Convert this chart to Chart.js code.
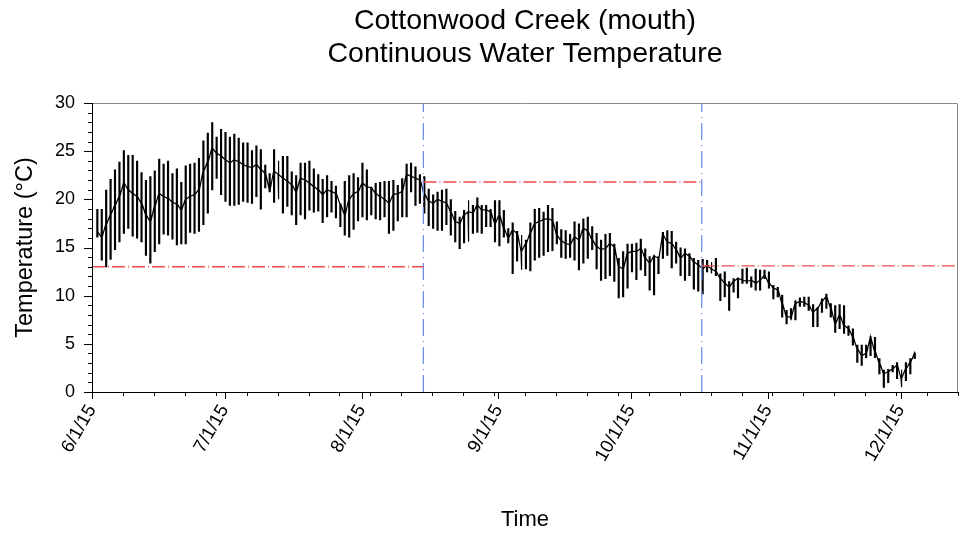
<!DOCTYPE html>
<html>
<head>
<meta charset="utf-8">
<title>Cottonwood Creek (mouth)</title>
<script src="https://cdn.jsdelivr.net/npm/chart.js@4.4.1/dist/chart.umd.min.js"></script>
<style>
  html, body { margin: 0; padding: 0; background: #fff; }
</style>
</head>
<body>
<canvas id="temp-chart" width="963" height="535"></canvas>
<script>
// x axis is "days since 6/1/15"
const monthStarts = [0, 30, 61, 92, 122, 153, 183];
const monthLabels = ['6/1/15', '7/1/15', '8/1/15', '9/1/15', '10/1/15', '11/1/15', '12/1/15'];
const firstDay = 1.1; // first reading, 6/2/15

// daily maximum / minimum / overnight level, degC
const dailyMax = [
  19.0, 19.0, 21.0, 22.1, 23.1, 23.9, 25.1, 24.6, 24.6, 24.0, 22.8, 22.0, 22.4, 23.0, 24.2, 23.7, 24.0, 22.7, 23.2, 21.8,
  23.5, 23.7, 23.8, 24.3, 26.1, 26.9, 28.0, 26.5, 27.3, 27.0, 26.5,
  26.8, 26.4, 25.9, 25.9, 25.1, 25.6, 25.2, 23.6, 22.7, 25.2, 24.0, 24.5, 24.5, 22.9, 22.5, 23.8, 23.8, 24.0, 23.2, 22.6,
  22.1, 22.5, 21.9, 21.4, 19.6, 21.9, 22.5, 22.7, 22.3, 23.8, 23.1,
  21.3, 21.7, 21.8, 21.9, 21.9, 22.0, 21.5, 22.2, 23.7, 23.8, 23.4, 22.6, 22.4, 21.1, 20.5, 20.8, 21.0, 21.1, 20.0, 18.8,
  18.2, 18.9, 19.9, 19.4, 20.2, 19.4, 19.4, 19.0, 19.9, 19.9, 18.9, 17.0,
  17.6, 16.7, 16.3, 15.8, 17.6, 19.0, 19.1, 18.7, 19.4, 19.1, 17.7, 16.9, 16.8, 16.4, 17.7, 17.5, 18.0, 18.2, 17.2, 16.5,
  15.8, 16.4, 16.5, 15.4, 13.9, 14.6, 15.4, 15.4, 15.5, 15.9, 14.9,
  14.1, 14.2, 14.1, 16.6, 16.8, 16.7, 15.6, 15.0, 14.9, 14.4, 13.9, 13.7, 13.8, 13.7, 13.5, 13.9, 12.3, 12.5, 11.5, 11.8,
  11.8, 12.8, 12.9, 12.0, 12.8, 12.7, 12.7, 12.5, 11.1, 10.9, 10.1, 8.5,
  8.7, 9.5, 9.8, 9.9, 9.9, 9.1, 8.7, 9.7, 10.2, 9.2, 9.0, 9.1, 9.0, 6.9, 6.6, 4.9, 4.9, 4.9, 5.8, 5.7,
  3.5, 2.3, 2.4, 2.8, 3.1, 2.3, 3.1, 3.5, 4.1
];
const dailyMin = [
  16.1, 13.7, 13.0, 13.8, 14.8, 15.6, 16.5, 17.0, 16.2, 16.0, 15.6, 14.2, 13.4, 14.6, 15.4, 16.4, 16.3, 15.9, 15.3, 15.4,
  15.4, 16.6, 16.5, 16.7, 17.4, 18.6, 21.0, 22.2, 20.5, 19.8, 19.4,
  19.4, 19.5, 19.8, 19.7, 19.6, 20.3, 19.0, 21.2, 20.8, 19.7, 20.0, 18.6, 19.3, 18.4, 17.4, 18.4, 18.0, 18.9, 18.7, 18.8,
  17.6, 18.2, 18.7, 18.1, 17.2, 16.3, 16.1, 16.9, 17.8, 18.2, 17.9,
  18.4, 18.0, 17.9, 18.2, 16.5, 16.8, 17.8, 18.2, 18.2, 20.8, 19.4, 19.6, 18.6, 17.3, 17.0, 16.8, 16.8, 17.4, 16.3, 15.6,
  14.9, 15.5, 15.6, 16.5, 16.6, 16.5, 17.2, 17.2, 15.6, 15.2, 16.1, 15.5,
  12.3, 13.6, 12.7, 12.8, 12.6, 13.7, 14.0, 14.2, 14.6, 14.7, 15.4, 14.0, 13.9, 14.0, 13.7, 12.7, 13.4, 13.9, 14.8, 12.8,
  11.6, 11.8, 12.1, 11.5, 9.8, 9.9, 10.8, 12.5, 11.7, 12.7, 12.1,
  10.6, 10.1, 12.3, 13.9, 14.2, 12.9, 13.4, 12.1, 11.6, 12.1, 10.7, 10.5, 10.2, 12.5, 12.3, 12.1, 9.5, 9.9, 8.5, 10.4,
  9.8, 11.3, 11.3, 10.9, 10.6, 10.6, 11.8, 10.8, 9.7, 9.9, 7.8, 7.1,
  7.6, 7.5, 8.9, 8.9, 8.5, 6.8, 6.8, 8.3, 8.7, 7.8, 6.2, 6.6, 6.1, 5.9, 4.9, 3.1, 2.8, 3.6, 3.8, 3.6,
  1.9, 0.5, 1.0, 2.1, 1.4, 0.5, 1.2, 1.9, 3.5
];
const dailyMid = [
  16.6, 16.1, 17.4, 18.4, 19.4, 20.3, 21.7, 21.0, 20.6, 20.3, 19.6, 18.4, 17.7, 19.3, 20.6, 20.3, 20.1, 19.7, 19.5, 18.9,
  20.0, 20.3, 20.5, 21.0, 22.9, 23.9, 25.3, 24.8, 24.5, 24.1, 23.8,
  24.1, 23.9, 23.6, 23.4, 23.3, 23.6, 23.1, 22.7, 21.0, 22.9, 22.6, 22.2, 21.9, 21.5, 20.8, 22.2, 22.0, 21.7, 21.3, 21.0,
  20.5, 21.0, 20.8, 20.6, 19.5, 18.4, 20.0, 20.6, 20.8, 21.7, 21.3,
  21.2, 20.6, 20.3, 20.0, 19.6, 20.5, 20.6, 20.8, 22.6, 22.4, 22.2, 22.0, 20.6, 19.8, 19.6, 20.0, 19.8, 19.6, 18.7, 17.7,
  17.5, 18.4, 18.7, 18.6, 19.4, 18.9, 18.9, 18.7, 17.5, 18.4, 17.0, 16.0,
  16.8, 16.5, 14.6, 15.4, 16.5, 17.5, 17.7, 17.9, 18.0, 17.8, 16.3, 15.7, 15.4, 15.3, 16.1, 15.8, 17.0, 16.7, 15.8, 15.1,
  14.8, 14.9, 15.4, 15.1, 13.0, 12.8, 14.4, 14.6, 14.6, 14.9, 13.9,
  13.4, 14.1, 13.9, 16.3, 15.6, 15.4, 14.8, 13.9, 14.4, 14.1, 13.5, 13.2, 12.8, 13.1, 12.8, 12.5, 11.8, 11.3, 10.9, 11.5,
  11.8, 11.6, 11.5, 11.6, 11.3, 11.6, 12.1, 11.3, 10.8, 10.6, 9.2, 7.8,
  7.8, 9.2, 9.4, 9.3, 9.0, 8.3, 8.7, 9.4, 9.9, 8.7, 7.1, 8.0, 6.9, 6.6, 5.7, 4.5, 3.8, 4.0, 5.6, 4.2,
  3.0, 1.9, 2.1, 2.4, 2.8, 1.4, 2.4, 3.1, 4.0
];

// criteria: red dashed levels between the blue season breaks
const seasonBreaks = [75, 138];          // 8/15/15, 10/17/15
const criteriaFrom = [0, 75, 138];
const criteriaTo = [75, 138, 196];
const criteriaTemp = [13.0, 21.8, 13.1];

const xMax = 196;
const yTicks = [0, 5, 10, 15, 20, 25, 30];
const FONT = "'Liberation Sans', Arial, sans-serif";

// each day: a double vertical stroke from min to max, then on to the next day
const tempPoints = [];
dailyMax.forEach((hi, i) => {
  const x = firstDay + i;
  const lo = dailyMin[i];
  tempPoints.push({x: x, y: dailyMid[i]});
  tempPoints.push({x: x, y: hi});
  tempPoints.push({x: x, y: lo});
  tempPoints.push({x: x + 0.22, y: lo});
  tempPoints.push({x: x + 0.22, y: hi});
  tempPoints.push({x: x + 0.22, y: dailyMid[i]});
});

const datasets = [];
criteriaTemp.forEach((t, i) => {
  datasets.push({
    data: [{x: criteriaFrom[i], y: t}, {x: criteriaTo[i], y: t}],
    showLine: true, borderColor: '#ee4b4b', borderWidth: 1.3, borderDash: [13, 3, 1, 3]
  });
});
seasonBreaks.forEach(d => {
  datasets.push({
    data: [{x: d, y: 0}, {x: d, y: 30}],
    showLine: true, borderColor: '#6f90e0', borderWidth: 1.3, borderDash: [17, 5, 1, 5]
  });
});
datasets.push({
  data: tempPoints, showLine: true, borderColor: '#000', borderWidth: 1.2
});

// box, tick marks and two-line title
const framePlugin = {
  id: 'frame',
  afterDraw(chart) {
    const {ctx, chartArea: a, scales: {x, y}} = chart;
    ctx.save();
    ctx.lineWidth = 1;
    ctx.strokeStyle = '#8a8a8a';
    ctx.beginPath();
    ctx.moveTo(a.left, a.top + 0.5); ctx.lineTo(a.right - 0.5, a.top + 0.5); ctx.lineTo(a.right - 0.5, a.bottom);
    ctx.stroke();

    ctx.strokeStyle = '#000';
    ctx.beginPath();
    ctx.moveTo(a.left + 0.5, a.top); ctx.lineTo(a.left + 0.5, a.bottom + 0.5); ctx.lineTo(a.right, a.bottom + 0.5);
    for (let v = 0; v <= 30; v++) {
      const py = Math.round(y.getPixelForValue(v)) + 0.5;
      const len = v % 5 === 0 ? 8 : 4;
      ctx.moveTo(a.left - len, py); ctx.lineTo(a.left, py);
    }
    for (let d = 0; d <= xMax; d += 7) {
      const px = Math.round(x.getPixelForValue(d)) + 0.5;
      ctx.moveTo(px, a.bottom); ctx.lineTo(px, a.bottom + 4);
    }
    monthStarts.forEach(d => {
      const px = Math.round(x.getPixelForValue(d)) + 0.5;
      ctx.moveTo(px, a.bottom); ctx.lineTo(px, a.bottom + 7);
    });
    ctx.stroke();

    ctx.fillStyle = '#000';
    ctx.font = '28.5px ' + FONT;
    ctx.textAlign = 'center';
    ctx.textBaseline = 'alphabetic';
    const cx = (a.left + a.right) / 2;
    ctx.fillText('Cottonwood Creek (mouth)', cx, 29);
    ctx.fillText('Continuous Water Temperature', cx, 62);
    ctx.restore();
  }
};

new Chart(document.getElementById('temp-chart'), {
  type: 'scatter',
  data: { datasets: datasets },
  options: {
    responsive: false,
    animation: false,
    devicePixelRatio: 1,
    layout: { padding: { top: 103, right: 5, left: 0, bottom: 0 } },
    elements: { point: { radius: 0, hoverRadius: 0 }, line: { tension: 0 } },
    plugins: { legend: { display: false }, tooltip: { enabled: false } },
    scales: {
      x: {
        type: 'linear', min: 0, max: xMax,
        grid: { display: false, drawTicks: false },
        border: { display: false },
        afterBuildTicks: axis => { axis.ticks = monthStarts.map(v => ({value: v})); },
        afterFit: axis => { axis.height = 143; },
        ticks: {
          autoSkip: false, minRotation: 60, maxRotation: 60, padding: 9,
          color: '#000', font: { family: FONT, size: 18.5 },
          callback: v => monthLabels[monthStarts.indexOf(v)]
        },
        title: {
          display: true, text: 'Time', color: '#000',
          font: { family: FONT, size: 22 }, padding: { top: 0, bottom: 2 }
        }
      },
      y: {
        min: 0, max: 30,
        grid: { display: false, drawTicks: false },
        border: { display: false },
        afterBuildTicks: axis => { axis.ticks = yTicks.map(v => ({value: v})); },
        afterFit: axis => { axis.width = 92; },
        ticks: { padding: 17, color: '#000', font: { family: FONT, size: 18 } },
        title: {
          display: true, text: 'Temperature (°C)', color: '#000',
          font: { family: FONT, size: 23.5 }, padding: { top: 11, bottom: 0 }
        }
      }
    }
  },
  plugins: [framePlugin]
});
</script>
</body>
</html>
